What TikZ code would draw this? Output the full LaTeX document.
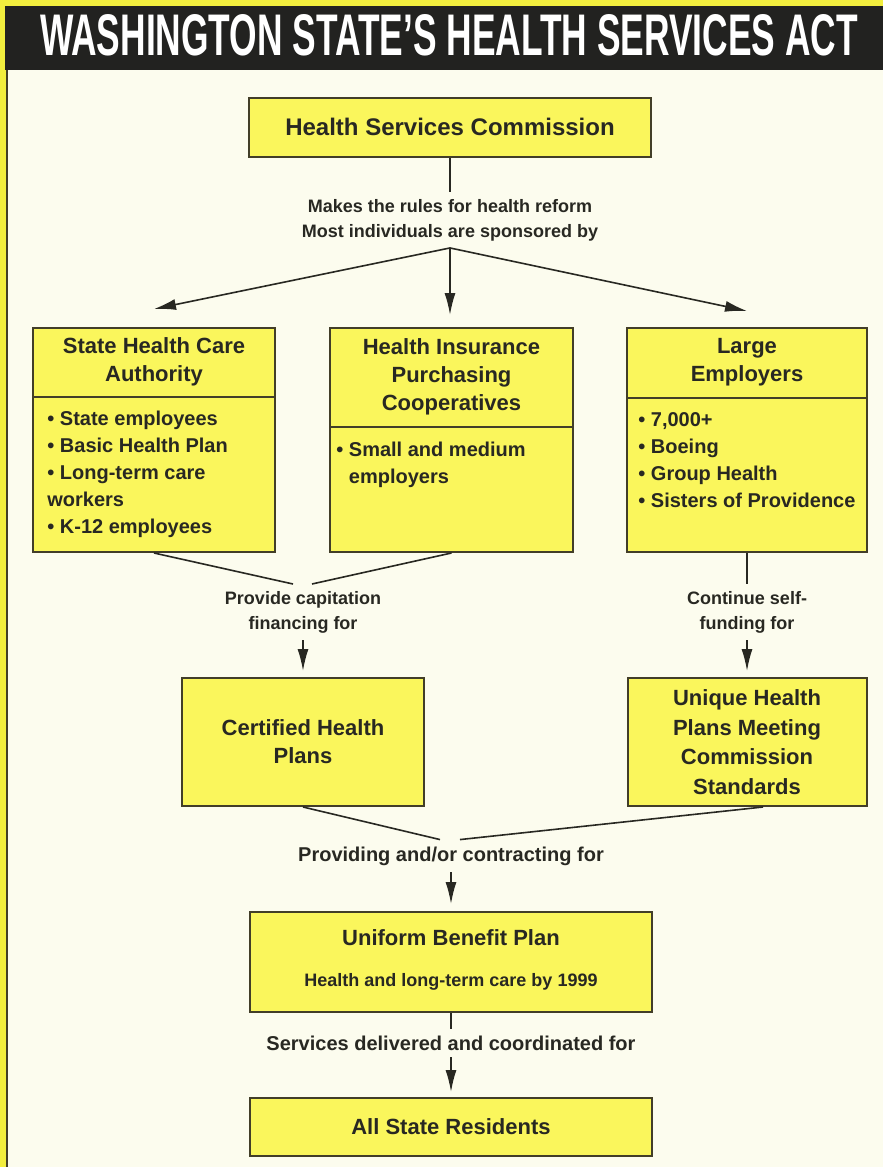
\documentclass[tikz,border=0pt]{standalone}
\usepackage{fontspec}
\setmainfont{Liberation Sans}
\usepackage{xcolor}
\usepackage{graphicx}
\usepackage{tikz}
\usetikzlibrary{arrows.meta}

\definecolor{frameyellow}{RGB}{242,238,62}
\definecolor{boxyellow}{RGB}{250,246,92}
\definecolor{cream}{RGB}{252,252,238}
\definecolor{ink}{RGB}{40,40,34}
\definecolor{boxline}{RGB}{66,62,40}
\definecolor{bar}{RGB}{34,34,32}

\tikzset{edge/.style = {->,> = {Latex[length=11pt,width=5.5pt]}, line width=0.8pt, draw=ink}}
\tikzset{link/.style = {line width=0.8pt, draw=ink}}

\begin{document}
\begin{tikzpicture}[x=0.5pt,y=-0.5pt,
    box/.style={draw=boxline,fill=boxyellow,line width=1pt,inner sep=0pt},
    head/.style={font=\bfseries\fontsize{11}{14}\selectfont,text=ink,align=center},
    items/.style={font=\bfseries\fontsize{10}{13.5}\selectfont,text=ink,align=left,anchor=north west,inner sep=0pt},
    note/.style={font=\bfseries\fontsize{9}{12.5}\selectfont,text=ink,align=center},
    rule/.style={draw=boxline,line width=1pt}]

    % frame and title bar
    \useasboundingbox (0,0) rectangle (883,1167);
    \fill[frameyellow] (0,0) rectangle (883,1167);
    \fill[cream] (7,70) rectangle (883,1167);
    \draw[rule] (7,70) -- (7,1167);
    \fill[bar] (5,6) rectangle (883,70);
    \node[text=white,font=\bfseries] (title) at (449,35) {\resizebox{409pt}{20.5pt}{WASHINGTON STATE'S HEALTH SERVICES ACT}};

    % commission
    \node[box,text=ink,font=\bfseries\fontsize{12}{14}\selectfont,minimum width=201pt,minimum height=29.5pt] (hsc) at (450,127) {Health Services Commission};
    \node[note] (rules) at (450,220) {Makes the rules for health reform\\Most individuals are sponsored by};
    \draw[link] (hsc) -- (rules);

    % sponsors
    \node[box,minimum width=121pt,minimum height=112pt] (sha) at (154,440) {};
    \node[box,minimum width=121.5pt,minimum height=112pt] (hip) at (451.5,440) {};
    \node[box,minimum width=120pt,minimum height=112pt] (lge) at (747,440) {};

    \draw[rule] ([yshift=-35pt]sha.north west) -- ([yshift=-35pt]sha.north east);
    \draw[rule] ([yshift=-50pt]hip.north west) -- ([yshift=-50pt]hip.north east);
    \draw[rule] ([yshift=-35.5pt]lge.north west) -- ([yshift=-35.5pt]lge.north east);

    \node[head] (sha-t) at ([yshift=-17.5pt]sha.north) {State Health Care\\Authority};
    \node[head] (hip-t) at ([yshift=-25pt]hip.north) {Health Insurance\\Purchasing\\Cooperatives};
    \node[head] (lge-t) at ([yshift=-17.75pt]lge.north) {Large\\Employers};

    \node[items] (sha-l) at ([xshift=7.5pt,yshift=-42pt]sha.north west) {\textbullet\ State employees\\\textbullet\ Basic Health Plan\\\textbullet\ Long-term care\\workers\\\textbullet\ K-12 employees};
    \node[items] (hip-l) at ([xshift=3.5pt,yshift=-57.25pt]hip.north west) {\textbullet\ Small and medium\\\phantom{\textbullet\ }employers};
    \node[items] (lge-l) at ([xshift=6pt,yshift=-42.5pt]lge.north west) {\textbullet\ 7,000+\\\textbullet\ Boeing\\\textbullet\ Group Health\\\textbullet\ Sisters of Providence};

    \path (rules.south) edge[edge] ([yshift=9pt]sha.north)
                        edge[edge] ([xshift=-0.75pt,yshift=6pt]hip.north)
                        edge[edge] ([yshift=8pt]lge.north);

    % plans
    \node[note] (cap) at (303,612) {Provide capitation\\financing for};
    \draw[link] (sha.south) -- ([xshift=-5pt]cap.north);
    \draw[link] (hip.south) -- ([xshift=4.5pt]cap.north);
    \node[box,head,minimum width=121pt,minimum height=64pt] (chp) at (303,742) {Certified Health\\Plans};
    \draw[edge] (cap.south) -- ([yshift=3pt]chp.north);

    \node[note] (self) at (747,612) {Continue self-\\funding for};
    \draw[link] (lge) -- (self);
    \node[box,head,font=\bfseries\fontsize{11}{14.8}\selectfont,minimum width=119.5pt,minimum height=64pt] (uhp) at (747,742) {Unique Health\\Plans Meeting\\Commission\\Standards};
    \draw[edge] (self.south) -- ([yshift=3pt]uhp.north);

    % benefit plan and residents
    \node[font=\bfseries\fontsize{10}{12}\selectfont,text=ink] (prov) at (451,856) {Providing and/or contracting for};
    \draw[link] (chp.south) -- ([xshift=-5.5pt]prov.north);
    \draw[link] ([xshift=8pt]uhp.south) -- ([xshift=4.5pt]prov.north);

    \node[box,minimum width=201pt,minimum height=50pt] (ubp) at (451,962) {};
    \node[head] (ubp-t) at ([yshift=12pt]ubp.center) {Uniform Benefit Plan};
    \node[note] (ubp-s) at ([yshift=-10pt]ubp.center) {Health and long-term care by 1999};
    \draw[edge] (prov.south) -- ([yshift=3.5pt]ubp.north);

    \node[font=\bfseries\fontsize{10}{12}\selectfont,text=ink] (serv) at (451,1043) {Services delivered and coordinated for};
    \draw[link] (ubp.south) -- (serv.north);
    \node[box,head,minimum width=201pt,minimum height=29pt] (asr) at (451,1127) {All State Residents};
    \draw[edge] (serv.south) -- ([yshift=2.5pt]asr.north);

\end{tikzpicture}
\end{document}
